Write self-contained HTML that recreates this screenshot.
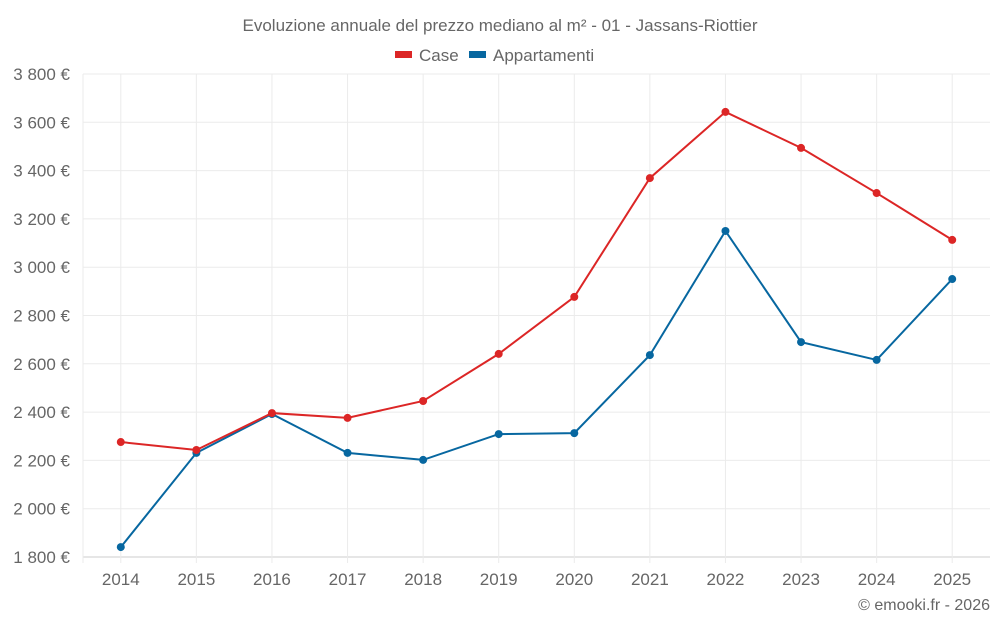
<!DOCTYPE html>
<html><head><meta charset="utf-8"><style>
body{margin:0;background:#fff;font-family:"Liberation Sans",sans-serif;}
svg text{font-family:"Liberation Sans",sans-serif;fill:#666;}
</style></head><body>
<svg id="c" width="1000" height="625">
<text x="500" y="31" text-anchor="middle" font-size="17">Evoluzione annuale del prezzo mediano al m² - 01 - Jassans-Riottier</text>
<g><rect x="395" y="51" width="17" height="7" fill="#dc2626"/><text x="419" y="61" font-size="17">Case</text></g>
<g><rect x="469" y="51" width="17" height="7" fill="#0767a0"/><text x="493" y="61" font-size="17">Appartamenti</text></g>
<g id="grid"></g><g id="marks"></g>
<text x="990" y="610" text-anchor="end" font-size="16">© emooki.fr - 2026</text>
</svg>
<script>
const years=[2014,2015,2016,2017,2018,2019,2020,2021,2022,2023,2024,2025];
const caseVals=[2276,2243,2396,2376,2446,2641,2877,3369,3643,3494,3307,3113];
const aptVals=[1841,2231,2392,2231,2202,2309,2313,2636,3150,2690,2616,2951];
const yTicks=[1800,2000,2200,2400,2600,2800,3000,3200,3400,3600,3800];
const NS="http://www.w3.org/2000/svg";
const L=83,R=990,T=74,B=557;
const step=(R-L)/years.length;
const xs=i=>L+step*(i+0.5);
const ys=v=>B-(v-1800)/(2000)*(B-T);
const grid=document.getElementById('grid'),marks=document.getElementById('marks');
function mk(tag,attrs,parent){const e=document.createElementNS(NS,tag);for(const k in attrs)e.setAttribute(k,attrs[k]);parent.appendChild(e);return e;}
yTicks.forEach(v=>{
 const l=mk('line',{x1:L,x2:R,y1:ys(v),y2:ys(v),stroke:v===1800?'#ccc':'#ebebeb'},grid);
 
 
 const t=mk('text',{x:L-13,y:ys(v)+6,'text-anchor':'end','font-size':'17'},grid);
 t.textContent=String(v).replace(/\B(?=(\d{3})+$)/,' ')+' €';
 
 
});
const ax=mk('line',{x1:L,x2:L,y1:T,y2:B+6,stroke:'#ebebeb'},grid);


years.forEach((y,i)=>{
 const l=mk('line',{x1:xs(i),x2:xs(i),y1:T,y2:B+6,stroke:'#ebebeb'},grid);
 
 
 const t=mk('text',{x:xs(i),y:585,'text-anchor':'middle','font-size':'17'},grid);
 t.textContent=y;
 
 
});
function series(vals,color,name){
 const p=mk('polyline',{points:vals.map((v,i)=>xs(i)+','+ys(v)).join(' '),fill:'none',stroke:color,'stroke-width':2},marks);
 
 
 vals.forEach((v,i)=>{
  const c=mk('circle',{cx:xs(i),cy:ys(v),r:4,fill:color},marks);
  
  
 });
}
series(aptVals,'#0767a0','appartamenti');
series(caseVals,'#dc2626','case');
</script>
</body></html>
